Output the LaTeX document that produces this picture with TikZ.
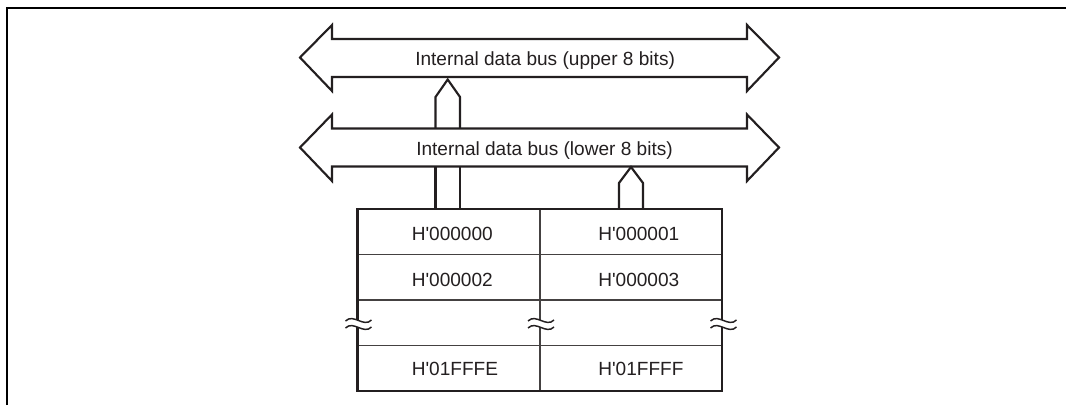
\documentclass[tikz,border=0pt]{standalone}
\usepackage{fontspec}
\newfontfamily\hv{Liberation Sans}
\definecolor{ink}{HTML}{231F20}
\begin{document}
\begin{tikzpicture}[x=0.75pt,y=-0.75pt,
  busline/.style={draw=ink,line width=1.6pt,line join=miter},
  outer/.style={draw=ink,line width=1.7pt},
  inner/.style={draw=ink!85,line width=1pt},
  lbl/.style={anchor=base west,inner sep=0pt,text=ink,font=\hv\fontsize{14.3}{17}\selectfont},
  wavy/.style={draw=ink,line width=1.1pt}]
\useasboundingbox (0,0) rectangle (1066,405);
% frame
\draw[black,line width=1.9pt] (7,405) -- (7,7.8) -- (1066,7.8);
% upper bus
\draw[busline] (300,57.5) -- (332,25) -- (332,39) -- (747,39) -- (747,25) -- (779,57.5)
  -- (747,91) -- (747,77) -- (332,77) -- (332,91) -- cycle;
% lower bus
\draw[busline] (300,147.5) -- (332,114.5) -- (332,128.5) -- (747,128.5) -- (747,114.5) -- (779,147.5)
  -- (747,181) -- (747,166.5) -- (332,166.5) -- (332,181) -- cycle;
\node[lbl] (ub) at (415,65) {Internal data bus (upper 8 bits)};
\node[lbl] (lb) at (416,155) {Internal data bus (lower 8 bits)};
% connector lower bus -> upper bus
\draw[busline] (435.5,128.5) -- (435.5,97) -- (447.7,79.5) -- (460,97) -- (460,128.5);
% connector memory -> lower bus (left, straight)
\draw[busline] (435.5,166.5) -- (435.5,209) (460,166.5) -- (460,209);
% connector memory -> lower bus (right, pointed)
\draw[busline] (619,209) -- (619,183) -- (631,167) -- (643,183) -- (643,209);
% memory inner lines
\draw[inner] (357.5,254.5) -- (722.3,254.5);
\draw[inner] (357.5,300) -- (722.3,300);
\draw[inner] (357.5,345.5) -- (722.3,345.5);
\draw[inner] (540,209) -- (540,391);
% memory outer
\draw[outer] (357.5,209) rectangle (722.3,391);
% breaks
\foreach \bx in {358.5,541,723.5}{
  \fill[white] (\bx-13,321) .. controls (\bx-5,313) and (\bx+5,328) .. (\bx+13,320)
     -- (\bx+13,327) .. controls (\bx+5,335) and (\bx-5,320) .. (\bx-13,328) -- cycle;
  \draw[wavy] (\bx-13,321) .. controls (\bx-5,313) and (\bx+5,328) .. (\bx+13,320);
  \draw[wavy] (\bx-13,328) .. controls (\bx-5,320) and (\bx+5,335) .. (\bx+13,327);
}
% cell texts
\node[lbl] (c0) at (411.5,240.5) {H'000000};
\node[lbl] (c1) at (598,240.5) {H'000001};
\node[lbl] (c2) at (411.5,286.5) {H'000002};
\node[lbl] (c3) at (598,286.5) {H'000003};
\node[lbl] (c4) at (411.5,375) {H'01FFFE};
\node[lbl] (c5) at (598,375) {H'01FFFF};
\end{tikzpicture}
\end{document}
